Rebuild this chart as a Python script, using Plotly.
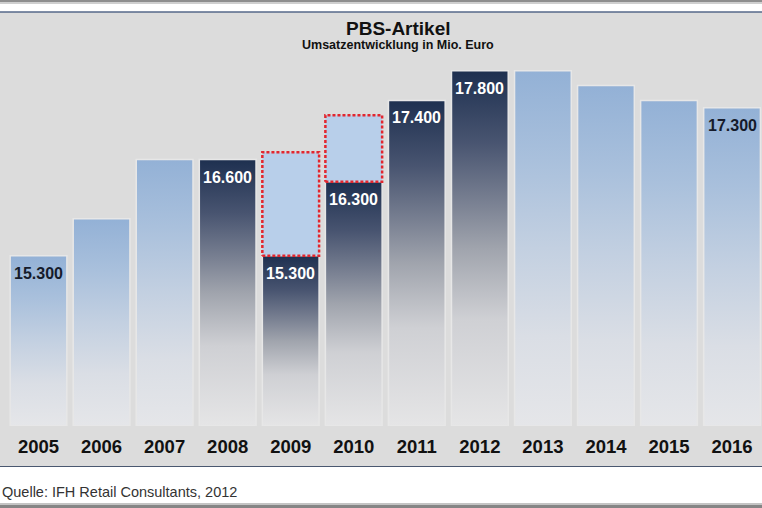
import plotly.graph_objects as go

# ---- data ----
years = ["2005", "2006", "2007", "2008", "2009", "2010",
         "2011", "2012", "2013", "2014", "2015", "2016"]
values = [15.3, 15.8, 16.6, 16.6, 15.3, 16.3, 17.4, 17.8, 17.8, 17.6, 17.4, 17.3]
is_actual = [False, False, False, True, True, True, True, True, False, False, False, False]
forecast_gap = {"2009": 16.7, "2010": 17.2}   # former forecast (dotted boxes)
labels = ["15.300", "", "", "16.600", "15.300", "16.300",
          "17.400", "17.800", "", "", "", "17.300"]
base = 13.0

title = "PBS-Artikel"
subtitle = "Umsatzentwicklung in Mio. Euro"
source = "Quelle: IFH Retail Consultants, 2012"

W, H = 762, 508
def py(p):  # pixel row -> paper y
    return 1 - p / H

light_scale = [[0, "#e5e6e9"], [0.25, "#dadee5"], [0.5, "#c3d0e1"],
               [0.75, "#a9c0dc"], [1, "#93b1d6"]]
dark_scale = [[0, "#e5e5e6"], [0.3, "#cfd0d4"], [0.5, "#a0a4ad"],
              [0.62, "#7c8394"], [0.8, "#485470"], [1, "#1e3050"]]

fig = go.Figure()
hw = 0.45
for i, (yr, v, act) in enumerate(zip(years, values, is_actual)):
    fig.add_trace(go.Scatter(
        x=[i - hw, i + hw, i + hw, i - hw, i - hw],
        y=[base, base, v, v, base],
        mode="lines", fill="toself",
        fillgradient=dict(type="vertical",
                          colorscale=dark_scale if act else light_scale,
                          start=base, stop=v),
        line=dict(color="#e7e7e7", width=1.5),
        hoverinfo="skip", showlegend=False))
    if yr in forecast_gap:
        f = forecast_gap[yr]
        fig.add_trace(go.Scatter(
            x=[i - hw, i + hw, i + hw, i - hw, i - hw],
            y=[v, v, f, f, v],
            mode="lines", fill="toself", fillcolor="#b8cfea",
            line=dict(color="#e3262e", width=2.5, dash="3px,2px"),
            hoverinfo="skip", showlegend=False))

for i, (lab, v, act) in enumerate(zip(labels, values, is_actual)):
    if lab:
        fig.add_annotation(x=i, y=v, text="<b>%s</b>" % lab, showarrow=False,
                           yanchor="top", yshift=-7,
                           font=dict(family="Liberation Sans, Arial", size=16,
                                     color="#ffffff" if act else "#151b2b"))

shapes = [
    dict(type="rect", xref="paper", yref="paper", x0=0, x1=1, y0=py(0), y1=py(2),
         fillcolor="#8e8e8e", line_width=0, layer="below"),
    dict(type="rect", xref="paper", yref="paper", x0=0, x1=1, y0=py(2), y1=py(4),
         fillcolor="#cfcfcf", line_width=0, layer="below"),
    dict(type="rect", xref="paper", yref="paper", x0=0, x1=1, y0=py(12), y1=py(466),
         fillcolor="#dcdcdc", line_width=0, layer="below"),
    dict(type="line", xref="paper", yref="paper", x0=0, x1=1, y0=py(12), y1=py(12),
         line=dict(color="#56698a", width=1.5), layer="below"),
    dict(type="line", xref="paper", yref="paper", x0=0, x1=1, y0=py(466.5), y1=py(466.5),
         line=dict(color="#4a5870", width=1.2), layer="below"),
    dict(type="rect", xref="paper", yref="paper", x0=0, x1=1, y0=py(503), y1=py(505),
         fillcolor="#c4c4c4", line_width=0, layer="below"),
    dict(type="rect", xref="paper", yref="paper", x0=0, x1=1, y0=py(505), y1=py(508),
         fillcolor="#858585", line_width=0, layer="below"),
]

ppu = 74.0  # pixels per unit on y
ytop = base + (426 - 13) / ppu
fig.update_layout(
    width=W, height=H,
    margin=dict(l=0, r=0, t=0, b=0),
    paper_bgcolor="#ffffff", plot_bgcolor="rgba(0,0,0,0)",
    shapes=shapes,
    xaxis=dict(range=[-0.611, 11.475], domain=[0, 1],
               tickmode="array", tickvals=list(range(len(years))),
               ticktext=["<b>%s</b>" % y for y in years],
               tickfont=dict(family="Liberation Sans, Arial", size=18.5, color="#111111"),
               showgrid=False, zeroline=False, showline=False,
               ticks="outside", ticklen=4, tickcolor="rgba(0,0,0,0)"),
    yaxis=dict(range=[base, ytop], domain=[py(426), py(13)],
               showgrid=False, zeroline=False, showline=False, showticklabels=False),
)

fig.add_annotation(xref="paper", yref="paper", x=398 / W, y=py(28), text="<b>%s</b>" % title,
                   showarrow=False, xanchor="center", yanchor="middle",
                   font=dict(family="Liberation Sans, Arial", size=19, color="#111111"))
fig.add_annotation(xref="paper", yref="paper", x=398 / W, y=py(45), text="<b>%s</b>" % subtitle,
                   showarrow=False, xanchor="center", yanchor="middle",
                   font=dict(family="Liberation Sans, Arial", size=12.5, color="#111111"))
fig.add_annotation(xref="paper", yref="paper", x=0, y=py(492), text=source,
                   showarrow=False, xanchor="left", yanchor="middle",
                   font=dict(family="Liberation Sans, Arial", size=14.5, color="#333333"))

fig.write_html("out.html")
